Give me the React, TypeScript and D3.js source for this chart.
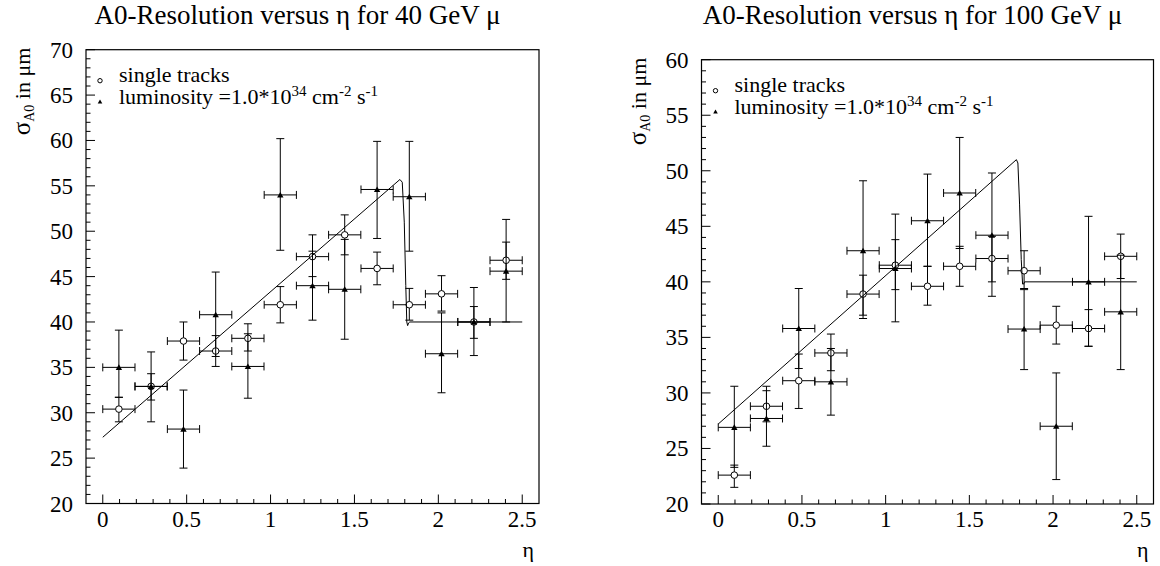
import React from "react";
import * as d3 from "d3";

// ---------- data ----------
const etaBins = [0.096, 0.288, 0.481, 0.673, 0.865, 1.058, 1.25, 1.442, 1.635, 1.827, 2.019, 2.212, 2.404];
const etaHalfWidth = 0.096;

const xTickLabels = [0, 0.5, 1, 1.5, 2, 2.5];
const yTicks40 = [20, 25, 30, 35, 40, 45, 50, 55, 60, 65, 70];
const yTicks100 = [20, 25, 30, 35, 40, 45, 50, 55, 60];

// 40 GeV
const single40 = [30.4, 32.9, 37.9, 36.8, 38.2, 41.9, 47.2, 49.6, 45.9, 41.9, 43.1, 40.0, 46.8];
const single40Lo = [29.0, 31.4, 35.8, 35.1, 36.8, 39.9, 45.0, 47.4, 44.1, 40.2, 41.2, 38.2, 44.7];
const single40Hi = [31.7, 34.3, 40.0, 38.5, 39.8, 43.9, 49.6, 51.8, 47.7, 43.7, 45.1, 41.7, 48.8];
const lumi40 = [35.0, 32.9, 28.2, 40.8, 35.1, 54.0, 44.0, 43.6, 54.6, 53.8, 36.5, 40.0, 45.6];
const lumi40Lo = [31.7, 29.0, 23.9, 36.2, 31.6, 47.9, 40.2, 38.1, 49.2, 47.8, 32.2, 36.3, 40.0];
const lumi40Hi = [39.1, 36.7, 32.5, 45.5, 38.7, 60.2, 47.8, 49.1, 59.9, 59.9, 41.0, 43.8, 51.3];
const fit40Eta = [0, 1.771, 1.785, 1.797, 1.806, 1.812, 1.817, 1.823, 1.83, 2.5];
const fit40Val = [27.3, 55.7, 55.4, 51.0, 44.0, 40.0, 39.6, 39.9, 40.0, 40.0];

// 100 GeV
const single100 = [22.6, 28.8, 31.1, 33.6, 38.9, 41.5, 39.6, 41.4, 42.1, 41.0, 36.1, 35.8, 42.3];
const single100Lo = [21.5, 27.4, 28.6, 32.0, 37.0, 39.3, 37.9, 39.6, 40.0, 39.4, 34.4, 34.2, 40.3];
const single100Hi = [23.5, 30.6, 33.5, 35.3, 40.6, 43.8, 41.4, 43.2, 44.1, 42.8, 37.8, 37.5, 44.3];
const lumi100 = [26.9, 27.7, 35.8, 31.0, 42.8, 41.2, 45.5, 48.0, 44.2, 35.75, 27.0, 40.0, 37.3];
const lumi100Lo = [23.3, 25.2, 32.2, 28.0, 36.7, 36.4, 41.4, 43.0, 38.7, 32.1, 22.2, 34.2, 32.1];
const lumi100Hi = [30.6, 30.2, 39.4, 34.0, 49.1, 46.1, 49.7, 53.0, 49.8, 39.3, 31.8, 45.9, 42.4];
const fit100Eta = [0, 1.781, 1.79, 1.80, 1.81, 1.818, 1.824, 1.83, 2.5];
const fit100Val = [27.2, 51.0, 50.7, 47.0, 42.0, 39.8, 39.8, 40.0, 40.0];

const FONT = "Liberation Serif, Times New Roman, serif";

type PanelProps = {
  left: number; right: number; top: number; bottom: number;
  yDomain: [number, number]; yTicks: number[];
  sV: number[]; sLo: number[]; sHi: number[];
  lV: number[]; lLo: number[]; lHi: number[];
  fEta: number[]; fVal: number[];
  energy: string;
};

function Panel(p: PanelProps) {
  const x = d3.scaleLinear().domain([-0.1, 2.6]).range([p.left, p.right]);
  const y = d3.scaleLinear().domain(p.yDomain).range([p.bottom, p.top]);
  const minorX = d3.range(0, 2.5001, 0.1);
  const minorY = d3.range(p.yDomain[0], p.yDomain[1] + 0.001, 1);
  const cap = 4;
  const r = 3.3;
  const line = d3.line<number>().x((_, i) => x(p.fEta[i])).y((v) => y(v));
  const tri = (cx: number, cy: number, s: number) =>
    `M${cx - s},${cy + s * 0.8} L${cx + s},${cy + s * 0.8} L${cx},${cy - s * 0.95} Z`;
  const cx = (p.left + p.right) / 2 - 15;
  const ts = { fontFamily: FONT };

  const errBars = (vals: number[], lo: number[], hi: number[], gap: number) =>
    vals.map((v, i) => {
      const ex = x(etaBins[i]);
      const ey = y(v);
      const x0 = x(etaBins[i] - etaHalfWidth);
      const x1 = x(etaBins[i] + etaHalfWidth);
      const yl = y(lo[i]);
      const yh = y(hi[i]);
      return (
        <g key={i}>
          <line x1={x0} x2={ex - gap} y1={ey} y2={ey} />
          <line x1={ex + gap} x2={x1} y1={ey} y2={ey} />
          <line x1={x0} x2={x0} y1={ey - cap} y2={ey + cap} />
          <line x1={x1} x2={x1} y1={ey - cap} y2={ey + cap} />
          <line x1={ex} x2={ex} y1={yh} y2={Math.max(yh, ey - gap)} />
          <line x1={ex} x2={ex} y1={Math.min(yl, ey + gap)} y2={yl} />
          <line x1={ex - cap} x2={ex + cap} y1={yh} y2={yh} />
          <line x1={ex - cap} x2={ex + cap} y1={yl} y2={yl} />
        </g>
      );
    });

  return (
    <g fill="#000">
      <text x={cx} y={24} textAnchor="middle" fontSize={27} style={ts}>
        A0-Resolution versus η for {p.energy} GeV μ
      </text>
      {/* y title */}
      <text transform={`translate(${p.left - 56},${p.top - 2}) rotate(-90)`} textAnchor="end" fontSize={22} style={ts}>
        <tspan fontSize={25}>σ</tspan>
        <tspan fontSize={14} dy={4}>A0</tspan>
        <tspan dy={-4}> in μm</tspan>
      </text>
      {/* x title */}
      <text x={p.right - 5} y={557} textAnchor="end" fontSize={22} style={ts}>η</text>

      {/* ticks */}
      <g stroke="#000" strokeWidth={1}>
        {minorX.map((t, i) => {
          const major = Math.abs(t * 2 - Math.round(t * 2)) < 1e-6;
          return <line key={"mx" + i} x1={x(t)} x2={x(t)} y1={p.bottom} y2={p.bottom - (major ? 9 : 4.5)} />;
        })}
        {minorY.map((t, i) => {
          const major = t % 5 === 0;
          return <line key={"my" + i} x1={p.left} x2={p.left + (major ? 9 : 4.5)} y1={y(t)} y2={y(t)} />;
        })}
      </g>
      {xTickLabels.map((t) => (
        <text key={"xl" + t} x={x(t)} y={527} textAnchor="middle" fontSize={23} style={ts}>{t}</text>
      ))}
      {p.yTicks.map((t) => (
        <text key={"yl" + t} x={p.left - 13} y={y(t) + 8} textAnchor="end" fontSize={23} style={ts}>{t}</text>
      ))}

      {/* legend */}
      <circle cx={p.left + 14} cy={p.top + 31} r={2.2} fill="none" stroke="#000" strokeWidth={1} />
      <text x={p.left + 33} y={p.top + 32} fontSize={22} style={ts}>single tracks</text>
      <path d={tri(p.left + 14, p.top + 52, 2.3)} fill="#000" />
      <text x={p.left + 33} y={p.top + 54.5} fontSize={22} style={ts}>
        luminosity =1.0*10<tspan fontSize={15} dy={-8}>34</tspan>
        <tspan dy={8}> cm</tspan>
        <tspan fontSize={15} dy={-8}>-2</tspan>
        <tspan dy={8}> s</tspan>
        <tspan fontSize={15} dy={-8}>-1</tspan>
      </text>

      {/* error bars */}
      <g stroke="#000" strokeWidth={1}>
        {errBars(p.sV, p.sLo, p.sHi, r)}
        {errBars(p.lV, p.lLo, p.lHi, 0)}
      </g>
      {/* markers */}
      {p.sV.map((v, i) => (
        <circle key={"c" + i} cx={x(etaBins[i])} cy={y(v)} r={r} fill="none" stroke="#000" strokeWidth={1} />
      ))}
      {p.lV.map((v, i) => (
        <path key={"t" + i} d={tri(x(etaBins[i]), y(v), 3.2)} fill="#000" />
      ))}
      {/* fit */}
      <path d={line(p.fVal) || ""} fill="none" stroke="#000" strokeWidth={1} />

      {/* frame */}
      <rect x={p.left} y={p.top} width={p.right - p.left} height={p.bottom - p.top} fill="none" stroke="#000" strokeWidth={1.2} />
    </g>
  );
}

export default function App() {
  return (
    <svg width={1160} height={566} style={{ position: "absolute", left: 0, top: 0, background: "#fff", fontFamily: FONT }}>
      <rect x={0} y={0} width={1160} height={566} fill="#fff" />
      <Panel left={86} right={539} top={49.7} bottom={503.5} yDomain={[20, 70]} yTicks={yTicks40}
        sV={single40} sLo={single40Lo} sHi={single40Hi} lV={lumi40} lLo={lumi40Lo} lHi={lumi40Hi}
        fEta={fit40Eta} fVal={fit40Val} energy="40" />
      <Panel left={701.5} right={1153.5} top={59.7} bottom={504} yDomain={[20, 60]} yTicks={yTicks100}
        sV={single100} sLo={single100Lo} sHi={single100Hi} lV={lumi100} lLo={lumi100Lo} lHi={lumi100Hi}
        fEta={fit100Eta} fVal={fit100Val} energy="100" />
    </svg>
  );
}
